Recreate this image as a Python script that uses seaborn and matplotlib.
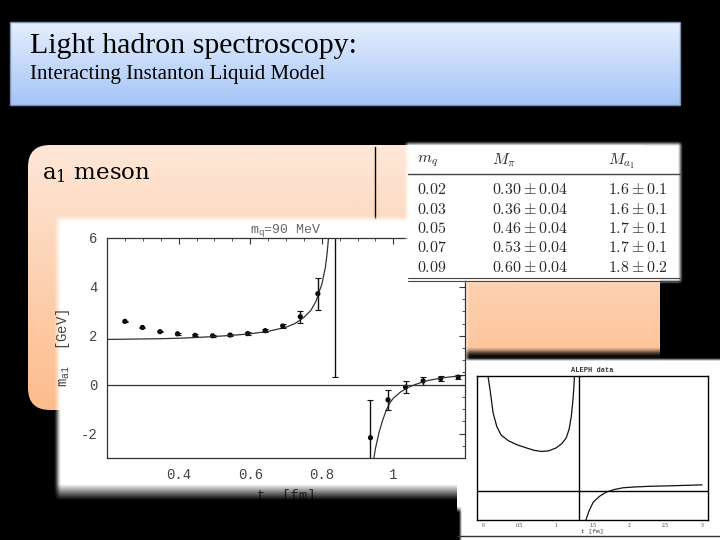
import numpy as np
import pandas as pd
import matplotlib
matplotlib.use("Agg")
import matplotlib.pyplot as plt
from matplotlib.patches import FancyBboxPatch, Rectangle
import seaborn as sns

# slide texts
title = "Light hadron spectroscopy:"
subtitle = "Interacting Instanton Liquid Model"
panel_label = "a$_1$ meson"

# main plot: effective a1 mass vs t
t_pts = [0.250, 0.299, 0.348, 0.397, 0.446, 0.495, 0.544, 0.593, 0.642, 0.691,
         0.740, 0.789, 0.838, 0.936, 0.985, 1.034, 1.083, 1.132, 1.181]
m_pts = [2.59, 2.34, 2.17, 2.08, 2.02, 2.00, 2.03, 2.09, 2.21, 2.40,
         2.78, 3.72, 8.00, -2.17, -0.62, -0.10, 0.15, 0.25, 0.31]
m_err = [0.03, 0.03, 0.03, 0.04, 0.04, 0.04, 0.05, 0.05, 0.07, 0.10,
         0.24, 0.65, 7.70, 1.55, 0.42, 0.24, 0.15, 0.11, 0.09]

# fitted curve, two branches around the pole
fit_left_t = [0.20, 0.25, 0.30, 0.35, 0.40, 0.45, 0.50, 0.55, 0.60, 0.65, 0.70,
              0.725, 0.75, 0.77, 0.785, 0.79, 0.80, 0.81, 0.815, 0.82]
fit_left_m = [1.85, 1.86, 1.87, 1.88, 1.90, 1.93, 1.97, 2.02, 2.08, 2.18, 2.35,
              2.50, 2.75, 3.05, 3.45, 3.70, 4.10, 4.80, 5.40, 6.20]
fit_right_t = [0.945, 0.95, 0.96, 0.97, 0.98, 0.99, 1.00, 1.02, 1.04, 1.06,
               1.08, 1.10, 1.13, 1.16, 1.20]
fit_right_m = [-3.05, -2.60, -1.95, -1.45, -1.05, -0.75, -0.55, -0.30, -0.12, 0.00,
               0.10, 0.18, 0.26, 0.32, 0.38]

# table
mq = ["0.02", "0.03", "0.05", "0.07", "0.09"]
m_pi = ["0.30", "0.36", "0.46", "0.53", "0.60"]
m_pi_err = ["0.04", "0.04", "0.04", "0.04", "0.04"]
m_a1 = ["1.6", "1.6", "1.7", "1.7", "1.8"]
m_a1_err = ["0.1", "0.1", "0.1", "0.1", "0.2"]

# inset (ALEPH data curve)
ins_left_t = [0.07, 0.10, 0.14, 0.19, 0.25, 0.35, 0.48, 0.60, 0.70, 0.80, 0.90,
              1.00, 1.08, 1.14, 1.18, 1.21, 1.23, 1.245, 1.255]
ins_left_m = [4.00, 3.50, 2.72, 2.25, 1.95, 1.75, 1.60, 1.50, 1.42, 1.38, 1.40,
              1.50, 1.65, 1.85, 2.15, 2.60, 3.10, 3.60, 4.10]
ins_right_t = [1.41, 1.45, 1.51, 1.60, 1.69, 1.80, 1.92, 2.10, 2.28, 2.60, 3.00]
ins_right_m = [-1.00, -0.70, -0.38, -0.17, -0.03, 0.06, 0.12, 0.15, 0.17, 0.19, 0.22]

sns.set_style("white")
plt.rcParams["font.family"] = ["Liberation Serif", "DejaVu Sans"]
plt.rcParams["mathtext.fontset"] = "custom"
plt.rcParams["mathtext.rm"] = "Liberation Mono"
plt.rcParams["mathtext.it"] = "Liberation Mono"

W, H = 720, 540
fig = plt.figure(figsize=(7.2, 5.4), dpi=100)
fig.patch.set_facecolor("black")


def px_axes(x0, x1, y0, y1, z):
    return fig.add_axes([x0 / W, 1 - y1 / H, (x1 - x0) / W, (y1 - y0) / H], zorder=z)


def soft_box(ax, x0, x1, y0, y1, blur, rgb, alpha=1.0, z=1):
    xs = np.arange(x0 - blur, x1 + blur + 1, dtype=float)
    ys = np.arange(y0 - blur, y1 + blur + 1, dtype=float)
    fx = np.clip(np.minimum(xs - (x0 - blur), (x1 + blur) - xs) / (2 * blur), 0, 1)
    fy = np.clip(np.minimum(ys - (y0 - blur), (y1 + blur) - ys) / (2 * blur), 0, 1)
    fx = fx * fx * (3 - 2 * fx)
    fy = fy * fy * (3 - 2 * fy)
    img = np.zeros((len(ys), len(xs), 4))
    img[..., :3] = rgb
    img[..., 3] = np.outer(fy, fx) * alpha
    ax.imshow(img, extent=(xs[0], xs[-1], ys[-1], ys[0]), aspect="auto",
              interpolation="bilinear", zorder=z)


def vgrad(ax, x0, x1, y0, y1, c_top, c_bot, z=1, clip=None):
    c_top = np.array(matplotlib.colors.to_rgb(c_top))
    c_bot = np.array(matplotlib.colors.to_rgb(c_bot))
    f = np.linspace(0, 1, 100)[:, None, None]
    img = c_top * (1 - f) + c_bot * f
    im = ax.imshow(img, extent=(x0, x1, y1, y0), aspect="auto",
                   interpolation="bilinear", zorder=z)
    if clip is not None:
        im.set_clip_path(clip)


# ---- background layer
bg = fig.add_axes([0, 0, 1, 1], zorder=0)
bg.axis("off")

# title box
vgrad(bg, 10, 680, 22, 105, "#e6eefd", "#a5c5f7", z=1)
bg.add_patch(Rectangle((10, 22), 670, 83, fill=False, ec="#7d90b0", lw=1, zorder=2))
bg.text(30, 46, title, fontsize=21.5, color="black", va="center", ha="left", zorder=3)
bg.text(30, 74, subtitle, fontsize=15, color="black", va="center", ha="left", zorder=3)

# orange rounded panel
panel = FancyBboxPatch((28, 145), 632, 265, boxstyle="round,pad=0,rounding_size=22",
                       fc="none", ec="none", zorder=2)
bg.add_patch(panel)
vgrad(bg, 28, 660, 145, 410, "#fde7d8", "#fdbc8c", z=2, clip=panel)
bg.text(42, 174, panel_label, fontsize=16.5, family="DejaVu Serif", math_fontfamily="dejavuserif",
        va="center", ha="left", color="black", zorder=3)
bg.plot([375, 375], [147, 218], color="black", lw=1, zorder=3)

# inset panel with its dark shadow
soft_box(bg, 455, 730, 351, 550, 5, (0, 0, 0), 0.95, z=4)
soft_box(bg, 460, 730, 359, 550, 2, (1, 1, 1), 1.0, z=5)
bg.plot([457, 720], [536, 536], color="#333333", lw=1, zorder=6)

# main plot panel
soft_box(bg, 57, 467, 218, 510, 4, (1, 1, 1), 1.0, z=7)

bg.set_xlim(0, W)
bg.set_ylim(H, 0)

# ---- main plot
ax = px_axes(107, 465, 238, 458, 2)
fit = pd.DataFrame({
    "t": fit_left_t + fit_right_t,
    "m": fit_left_m + fit_right_m,
    "branch": ["left"] * len(fit_left_t) + ["right"] * len(fit_right_t),
})
sns.lineplot(data=fit, x="t", y="m", units="branch", estimator=None, color="#333333",
             lw=0.9, ax=ax, legend=False)
ax.errorbar(t_pts, m_pts, yerr=m_err, fmt="none", ecolor="#111111", elinewidth=1.0,
            capsize=2, capthick=0.8)
sns.scatterplot(x=t_pts, y=m_pts, color="black", s=14, marker="o", edgecolor="none", ax=ax)
ax.axhline(0, color="#333333", lw=0.9)
ax.set_xlim(0.2, 1.2)
ax.set_ylim(-3, 6)
ax.set_xticks([0.4, 0.6, 0.8, 1.0])
ax.set_xticklabels(["0.4", "0.6", "0.8", "1"])
ax.set_xticks(np.arange(0.2, 1.21, 0.05), minor=True)
ax.set_yticks([-2, 0, 2, 4, 6])
ax.set_yticklabels(["-2", "0", "2", "4", "6"])
ax.set_yticks(np.arange(-3, 6.01, 0.5), minor=True)
ax.tick_params(which="both", direction="in", top=True, right=True, color="#333333")
ax.tick_params(which="major", length=4.5, width=0.8, labelsize=10, labelcolor="#444444", pad=7)
ax.tick_params(which="minor", length=2.5, width=0.6)
for lab in ax.get_xticklabels() + ax.get_yticklabels():
    lab.set_family("Liberation Mono")
for s in ax.spines.values():
    s.set_visible(True)
    s.set_color("#333333")
    s.set_linewidth(0.9)
ax.set_xlabel("t  [fm]", family="Liberation Mono", fontsize=10, color="#444444", labelpad=5)
ax.set_ylabel(r"m$_{\rm a1}$  [GeV]", family="Liberation Mono", fontsize=10, color="#444444",
              labelpad=6)
ax.set_title(r"m$_{\rm q}$=90 MeV", family="Liberation Mono", fontsize=9.5, color="#666666", pad=4)

# ---- inset plot
ins = px_axes(477, 708, 376, 520, 1.5)
ins_df = pd.DataFrame({
    "t": ins_left_t + ins_right_t,
    "m": ins_left_m + ins_right_m,
    "branch": ["left"] * len(ins_left_t) + ["right"] * len(ins_right_t),
})
sns.lineplot(data=ins_df, x="t", y="m", units="branch", estimator=None, color="#111111",
             lw=0.9, ax=ins, legend=False)
ins.axhline(0, color="black", lw=1)
ins.axvline(1.31, color="black", lw=1)
ins.set_xlim(-0.08, 3.08)
ins.set_ylim(-1, 4)
ins.set_xticks([0, 0.5, 1, 1.5, 2, 2.5, 3])
ins.set_xticklabels(["0", "0.5", "1", "1.5", "2", "2.5", "3"])
ins.set_xticks(np.arange(0, 3.01, 0.1), minor=True)
ins.set_yticks([-1, 0, 1, 2, 3, 4])
ins.set_yticklabels([])
ins.set_yticks(np.arange(-1, 4.01, 0.25), minor=True)
ins.tick_params(which="both", direction="in", color="#222222")
ins.tick_params(which="major", length=3, width=0.8, labelsize=4, labelcolor="#333333", pad=2)
ins.tick_params(which="minor", length=1.5, width=0.6)
for s in ins.spines.values():
    s.set_color("black")
    s.set_linewidth(1)
ins.set_xlabel("t [fm]", family="Liberation Mono", fontsize=4.5, color="#333333", labelpad=1)
ins.set_ylabel("")
ins.set_title("ALEPH data", family="Liberation Mono", fontsize=5, fontweight="bold",
              color="#333333", pad=3)

# ---- table (on top of the main plot)
top = fig.add_axes([0, 0, 1, 1], zorder=3)
top.axis("off")
soft_box(top, 406, 681, 143, 282, 3, (1, 1, 1), 1.0, z=1)
tcol = "#2a2a2a"
fs = 11.5
top.text(417, 161, "$m_q$", math_fontfamily="cm", fontsize=fs, color=tcol, va="center", zorder=3)
top.text(492, 161, r"$M_\pi$", math_fontfamily="cm", fontsize=fs, color=tcol, va="center", zorder=3)
top.text(608, 161, "$M_{a_1}$", math_fontfamily="cm", fontsize=fs, color=tcol, va="center", zorder=3)
top.plot([408, 680], [174, 174], color="#444444", lw=1, zorder=3)
row_y = [190, 210, 229, 248, 268]
for i, y in enumerate(row_y):
    top.text(417, y, "$" + mq[i] + "$", math_fontfamily="cm", fontsize=fs, color=tcol,
             va="center", zorder=3)
    top.text(492, y, "$" + m_pi[i] + r" \pm " + m_pi_err[i] + "$", math_fontfamily="cm",
             fontsize=fs, color=tcol, va="center", zorder=3)
    top.text(608, y, "$" + m_a1[i] + r" \pm " + m_a1_err[i] + "$", math_fontfamily="cm",
             fontsize=fs, color=tcol, va="center", zorder=3)
top.plot([408, 680], [278, 278], color="#444444", lw=0.8, zorder=3)
top.plot([408, 680], [281, 281], color="#444444", lw=0.8, zorder=3)

# fade of the main plot picture into the black background
fade = np.zeros((100, 1, 4))
fade[..., 3] = np.linspace(0, 1, 100)[:, None]
top.imshow(fade, extent=(50, 457, 500, 484), aspect="auto", interpolation="bilinear", zorder=2)
top.add_patch(Rectangle((50, 500), 407, 40, fc="black", ec="none", zorder=2))

top.set_xlim(0, W)
top.set_ylim(H, 0)

fig.savefig("out.png", dpi=100, facecolor=fig.get_facecolor())
